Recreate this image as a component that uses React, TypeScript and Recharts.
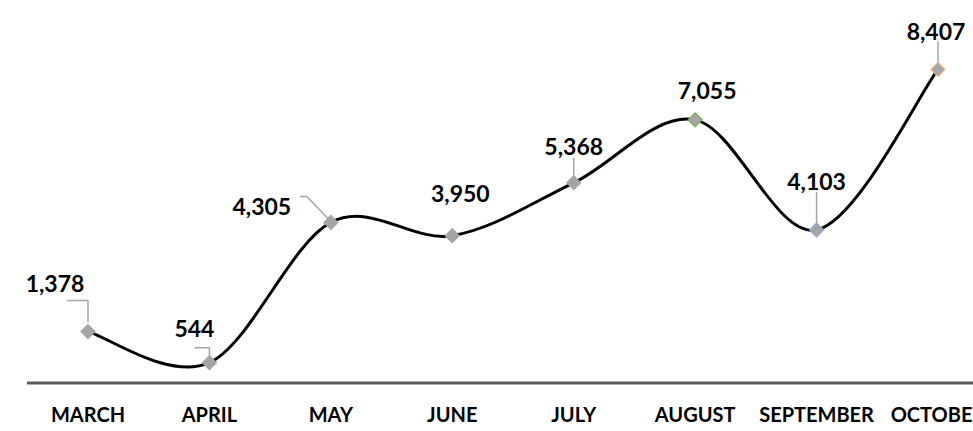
import React from 'react';
import { LineChart, Line, XAxis, YAxis, LabelList } from 'recharts';

const months = ['MARCH', 'APRIL', 'MAY', 'JUNE', 'JULY', 'AUGUST', 'SEPTEMBER', 'OCTOBER'];
const totals = [1378, 544, 4305, 3950, 5368, 7055, 4103, 8407];
const markerStrokes = ['#a5a5a5', '#a5a5a5', '#a5a5a5', '#a5a5a5', '#a5a5a5', '#70ad47', '#8fa9dc', '#f4b183'];

const data = months.map((month, i) => ({ month, total: totals[i] }));

// label placement relative to the point: text centre/baseline and an optional leader path
const labelPlacement: { dx: number; dy: number; leader?: string }[] = [
  { dx: -33, dy: -40, leader: 'M-21,-31 H0 V-9' },
  { dx: -15, dy: -26, leader: 'M-15,-15 H0 V-7' },
  { dx: -69, dy: -7, leader: 'M-31,-26 H-24 L-2,-3' },
  { dx: 8, dy: -34 },
  { dx: 0, dy: -28, leader: 'M0,-25 V-7' },
  { dx: 12, dy: -21 },
  { dx: 0, dy: -40, leader: 'M0,-38 V-7' },
  { dx: -2, dy: -29, leader: 'M0,-28 V-7' },
];

const FONT = 'Lato, "Open Sans", sans-serif';

// Excel-style smoothed line (bezier with 1/6 tangents)
const smoothCurve: any = (ctx: any) => {
  let pts: number[][] = [];
  return {
    areaStart() {},
    areaEnd() {},
    lineStart() {
      pts = [];
    },
    point(x: number, y: number) {
      pts.push([+x, +y]);
    },
    lineEnd() {
      const n = pts.length;
      if (!n) return;
      ctx.moveTo(pts[0][0], pts[0][1]);
      for (let i = 0; i < n - 1; i++) {
        const p0 = pts[Math.max(i - 1, 0)];
        const p1 = pts[i];
        const p2 = pts[i + 1];
        const p3 = pts[Math.min(i + 2, n - 1)];
        ctx.bezierCurveTo(
          p1[0] + (p2[0] - p0[0]) / 6,
          p1[1] + (p2[1] - p0[1]) / 6,
          p2[0] - (p3[0] - p1[0]) / 6,
          p2[1] - (p3[1] - p1[1]) / 6,
          p2[0],
          p2[1]
        );
      }
    },
  };
};

const Diamond = (props: any) => {
  const { cx, cy, index } = props;
  if (cx == null || cy == null) return null;
  const r = 7;
  return (
    <path
      key={`d-${index}`}
      d={`M${cx},${cy - r} L${cx + r},${cy} L${cx},${cy + r} L${cx - r},${cy} Z`}
      fill="#a5a5a5"
      stroke={markerStrokes[index]}
      strokeWidth={1.2}
    />
  );
};

const ValueLabel = (props: any) => {
  const { x, y, value, index } = props;
  const p = labelPlacement[index];
  return (
    <g>
      {p.leader && (
        <path d={p.leader} transform={`translate(${x},${y})`} fill="none" stroke="#a5a5a5" strokeWidth={1.5} />
      )}
      <text
        x={x + p.dx}
        y={y + p.dy}
        textAnchor="middle"
        fontFamily={FONT}
        fontWeight={700}
        fontSize={23}
        fill="#000"
      >
        {Number(value).toLocaleString('en-US')}
      </text>
    </g>
  );
};

const MonthTick = (props: any) => {
  const { x, y, payload } = props;
  return (
    <text x={x} y={y + 31} textAnchor="middle" fontFamily={FONT} fontWeight={700} fontSize={20} fill="#000">
      {payload.value}
    </text>
  );
};

export default function App() {
  return (
    <div style={{ position: 'absolute', left: 0, top: 0, width: 973, height: 431, overflow: 'hidden', background: '#fff' }}>
      <LineChart width={1000} height={431} data={data} margin={{ top: 10, right: 1, left: 27, bottom: 0 }}>
        <XAxis
          dataKey="month"
          height={48}
          padding={{ left: 61, right: 61 }}
          axisLine={{ stroke: '#595959', strokeWidth: 3 }}
          tickLine={false}
          tick={<MonthTick />}
          interval={0}
        />
        <YAxis hide domain={[0, 10000]} />
        <Line
          dataKey="total"
          type={smoothCurve}
          stroke="#000"
          strokeWidth={3}
          dot={<Diamond />}
          activeDot={false}
          isAnimationActive={false}
        >
          <LabelList dataKey="total" content={<ValueLabel />} />
        </Line>
      </LineChart>
    </div>
  );
}
